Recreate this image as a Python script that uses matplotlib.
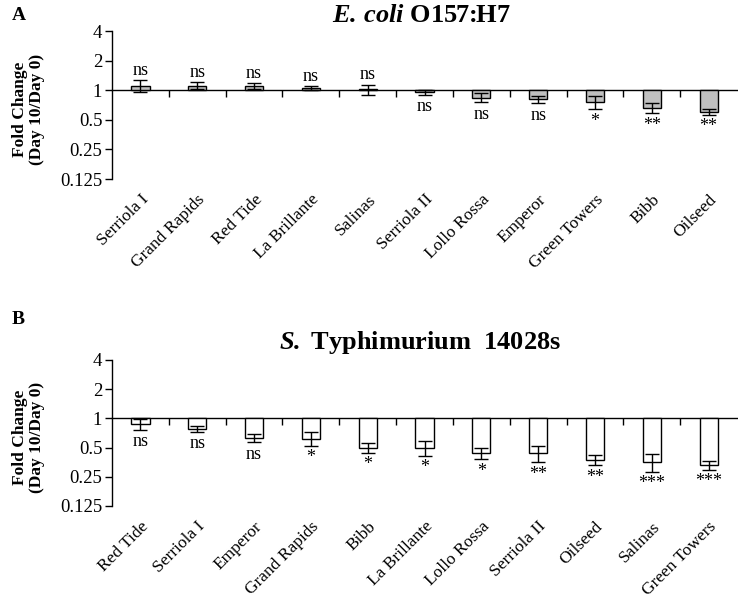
import numpy as np
import matplotlib
matplotlib.use("Agg")
import matplotlib.pyplot as plt
from matplotlib.ticker import FixedLocator, FixedFormatter, NullLocator

plt.rcParams['font.family'] = 'Liberation Serif'
plt.rcParams['mathtext.fontset'] = 'custom'
plt.rcParams['mathtext.rm'] = 'Liberation Serif'
plt.rcParams['mathtext.it'] = 'Liberation Serif:italic'
plt.rcParams['mathtext.bf'] = 'Liberation Serif:bold'
plt.rcParams['mathtext.bfit'] = 'Liberation Serif:italic:bold'

# panel A - E. coli O157:H7
ecoli_cultivars = ["Serriola I", "Grand Rapids", "Red Tide", "La Brillante", "Salinas",
                   "Serriola II", "Lollo Rossa", "Emperor", "Green Towers", "Bibb", "Oilseed"]
ecoli_fold = [1.11, 1.11, 1.10, 1.05, 1.02, 0.95, 0.84, 0.81, 0.76, 0.66, 0.60]
ecoli_err = [0.15, 0.09, 0.07, 0.05, 0.12, 0.05, 0.09, 0.07, 0.12, 0.075, 0.04]
ecoli_sig = ["ns", "ns", "ns", "ns", "ns", "ns", "ns", "ns", "*", "**", "**"]

# panel B - S. Typhimurium 14028s
salm_cultivars = ["Red Tide", "Serriola I", "Emperor", "Grand Rapids", "Bibb", "La Brillante",
                  "Lollo Rossa", "Serriola II", "Oilseed", "Salinas", "Green Towers"]
salm_fold = [0.87, 0.78, 0.63, 0.62, 0.50, 0.50, 0.44, 0.44, 0.375, 0.355, 0.33]
salm_err = [0.11, 0.05, 0.06, 0.10, 0.055, 0.09, 0.06, 0.085, 0.045, 0.075, 0.035]
salm_sig = ["ns", "ns", "ns", "*", "*", "*", "*", "**", "**", "***", "***"]

yticks = [0.125, 0.25, 0.5, 1, 2, 4]
ytick_labels = ["0.125", "0.25", "0.5", "1", "2", "4"]


def draw_panel(ax, cultivars, fold, err, sig, fill):
    n = len(cultivars)
    x = np.arange(n)
    fold = np.array(fold)
    err = np.array(err)
    ax.set_yscale('log', base=2)
    ax.set_ylim(0.125, 4)
    ax.set_xlim(-0.5, n - 0.5)

    ax.bar(x, fold - 1, bottom=1, width=0.32, color=fill, edgecolor='black', linewidth=1, zorder=2)
    ax.errorbar(x, fold, yerr=err, fmt='none', ecolor='black', elinewidth=1,
                capsize=5, capthick=1, zorder=3)

    for xi, f, e, s in zip(x, fold, err, sig):
        if f >= 1:
            ax.annotate(s, (xi, f + e), xytext=(0, 1), textcoords='offset points',
                        ha='center', va='bottom', fontsize=13)
        else:
            ax.annotate(s, (xi, f - e), xytext=(0, -2.5), textcoords='offset points',
                        ha='center', va='top', fontsize=13)

    for side in ['top', 'right', 'bottom']:
        ax.spines[side].set_visible(False)
    ax.spines['left'].set_linewidth(1)

    ax.yaxis.set_major_locator(FixedLocator(yticks))
    ax.yaxis.set_major_formatter(FixedFormatter(ytick_labels))
    ax.yaxis.set_minor_locator(NullLocator())
    ax.tick_params(axis='y', direction='out', length=5, width=1, labelsize=13.5, pad=2)

    ax.set_xticks(x)
    ax.set_xticklabels(cultivars, rotation=45, ha='right', rotation_mode='anchor', fontsize=12.5)
    ax.tick_params(axis='x', length=0, pad=9)

    # horizontal baseline at fold change = 1 with ticks between cultivars
    lo, hi = ax.get_ylim()
    frac = (np.log2(1) - np.log2(lo)) / (np.log2(hi) - np.log2(lo))
    sec = ax.secondary_xaxis(frac)
    sec.set_xticks(np.arange(0.5, n - 1, 1))
    sec.tick_params(axis='x', direction='in', length=5, width=1, labeltop=False, labelbottom=False)
    for sp in sec.spines.values():
        sp.set_linewidth(1)

    ax.text(-0.134, 0.47, "Fold Change\n(Day 10/Day 0)", transform=ax.transAxes, rotation=90,
            ha='center', va='center', fontsize=12.5, fontweight='bold', multialignment='center',
            linespacing=1.1)


fig = plt.figure(figsize=(7.38, 6.01), dpi=100)
axA = fig.add_axes([112 / 738, 1 - 179 / 601, 625 / 738, 148 / 601])
axB = fig.add_axes([112 / 738, 1 - 506 / 601, 625 / 738, 146 / 601])

draw_panel(axA, ecoli_cultivars, ecoli_fold, ecoli_err, ecoli_sig, '#c0c0c0')
draw_panel(axB, salm_cultivars, salm_fold, salm_err, salm_sig, 'white')

fig.text(422 / 738, 1 - 15 / 601, r"$\mathbfit{E.\,coli}$ O157:H7", ha='center', va='center',
         fontsize=19, fontweight='bold')
fig.text(420 / 738, 1 - 342 / 601, r"$\mathbfit{S.}$ Typhimurium  14028s", ha='center', va='center',
         fontsize=19, fontweight='bold')
fig.text(12 / 738, 1 - 16 / 601, "A", ha='left', va='center', fontsize=14, fontweight='bold')
fig.text(12 / 738, 1 - 319 / 601, "B", ha='left', va='center', fontsize=14, fontweight='bold')

fig.savefig("out.png", dpi=100)
